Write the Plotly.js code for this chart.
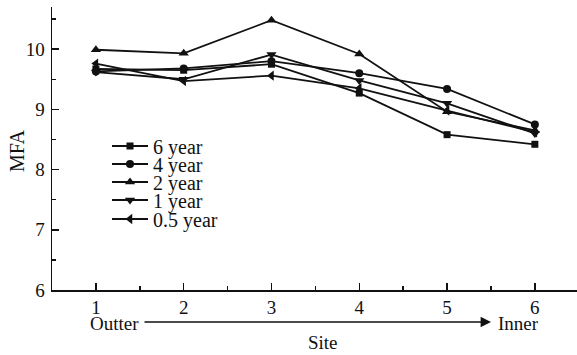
<!DOCTYPE html>
<html><head><meta charset="utf-8">
<script src="https://cdn.plot.ly/plotly-3.0.1.min.js"></script>
<style>html,body{margin:0;padding:0;background:#fff}#chart{width:577px;height:355px}</style>
</head><body><div id="chart"></div>
<script>
const sites = [1, 2, 3, 4, 5, 6];
const seriesNames = ["6 year", "4 year", "2 year", "1 year", "0.5 year"];
const year6 = [9.67, 9.65, 9.75, 9.27, 8.58, 8.42];
const year4 = [9.63, 9.68, 9.80, 9.60, 9.34, 8.75];
const year2 = [9.99, 9.93, 10.48, 9.92, 8.96, 8.65];
const year1 = [9.62, 9.50, 9.91, 9.48, 9.10, 8.60];
const year05 = [9.76, 9.47, 9.56, 9.35, 8.98, 8.62];
const xTickLabels = ["1", "2", "3", "4", "5", "6"];

const seriesValues = [year6, year4, year2, year1, year05];
const symbols = ["square", "circle", "triangle-up", "triangle-down", "triangle-left"];
const sizes = [7, 8, 9, 9, 9];
const legendIds = ["legend", "legend2", "legend3", "legend4", "legend5"];
const legendCentersPx = [146, 164, 182, 200, 219];

const font = "Liberation Serif, Times New Roman, serif";
const ink = "#111";

const traces = seriesValues.map((vals, i) => ({
  x: sites, y: vals, name: seriesNames[i], type: "scatter", mode: "lines+markers",
  legend: legendIds[i],
  line: {color: ink, width: 1.8},
  marker: {symbol: symbols[i], size: sizes[i], color: ink}
}));

const layout = {
  width: 577, height: 355,
  margin: {l: 52, r: 0, t: 7, b: 65},
  paper_bgcolor: "#fff", plot_bgcolor: "#fff",
  font: {family: font, size: 19, color: ink},
  showlegend: true,
  xaxis: {
    range: [0.5, 6.48], tickvals: sites, ticktext: xTickLabels,
    showgrid: false, zeroline: false, showline: true, linecolor: ink, linewidth: 1.5,
    ticks: "inside", ticklen: 7, tickwidth: 1.5, tickcolor: ink,
    minor: {dtick: 0.5, ticks: "inside", ticklen: 4, tickwidth: 1.5, tickcolor: ink},
    tickfont: {family: font, size: 19, color: ink}, fixedrange: true
  },
  yaxis: {
    range: [6, 10.7], dtick: 1, tick0: 6,
    showgrid: false, zeroline: false, showline: true, linecolor: ink, linewidth: 1.5,
    ticks: "inside", ticklen: 7, tickwidth: 1.5, tickcolor: ink,
    minor: {dtick: 0.5, ticks: "inside", ticklen: 4, tickwidth: 1.5, tickcolor: ink},
    tickfont: {family: font, size: 19, color: ink}, ticklabelstandoff: 2,
    fixedrange: true
  },
  annotations: [
    {xref: "paper", yref: "paper", x: (17 - 52) / 525, y: (290 - 151) / 283, xanchor: "center", yanchor: "middle",
     text: "MFA", textangle: -90, showarrow: false, font: {family: font, size: 20, color: ink}},
    {xref: "paper", yref: "paper", x: (141 - 52) / 525, y: (290 - 323) / 283, xanchor: "right", yanchor: "middle",
     text: "Outter", showarrow: false, font: {family: font, size: 19, color: ink}},
    {xref: "paper", yref: "paper", x: (496 - 52) / 525, y: (290 - 323) / 283, xanchor: "left", yanchor: "middle",
     text: "Inner", showarrow: false, font: {family: font, size: 19, color: ink}},
    {xref: "paper", yref: "paper", x: (323 - 52) / 525, y: (290 - 342) / 283, xanchor: "center", yanchor: "middle",
     text: "Site", showarrow: false, font: {family: font, size: 19, color: ink}},
    {xref: "paper", yref: "paper", x: (491 - 52) / 525, y: (290 - 322) / 283, text: "", showarrow: true,
     axref: "pixel", ayref: "pixel", ax: -348, ay: 0, arrowhead: 2, arrowsize: 1.3, arrowwidth: 1.6, arrowcolor: ink,
     standoff: 0, startstandoff: 0}
  ]
};

legendIds.forEach((id, i) => {
  layout[id] = {
    x: (107 - 52) / 525, y: (290 - legendCentersPx[i]) / 283, xanchor: "left", yanchor: "middle",
    bgcolor: "rgba(0,0,0,0)", borderwidth: 0, itemwidth: 36,
    font: {family: font, size: 20, color: ink}
  };
});

Plotly.newPlot("chart", traces, layout, {displayModeBar: false, staticPlot: true});
</script></body></html>
